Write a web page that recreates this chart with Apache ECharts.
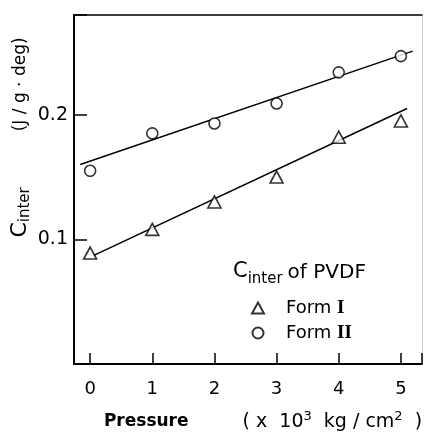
<!DOCTYPE html>
<html><head><meta charset="utf-8">
<script src="https://cdn.jsdelivr.net/npm/echarts@6/dist/echarts.min.js"></script>
<style>html,body{margin:0;padding:0;background:#fff}#c{width:425px;height:432px}</style>
</head><body><div id="c"></div>
<script>
// Data
const pressure = [0, 1, 2, 3, 4, 5];
const formI = [0.089, 0.108, 0.130, 0.150, 0.182, 0.195];
const formII = [0.155, 0.185, 0.193, 0.209, 0.234, 0.247];
// fitted straight lines (endpoints)
const fitIx = [0.05, 5.1];
const fitIy = [0.087, 0.205];
const fitIIx = [-0.16, 5.19];
const fitIIy = [0.160, 0.251];
const yTickLabels = ['0.1', '0.2'];
const xTickLabels = ['0', '1', '2', '3', '4', '5'];

const FONT = 'DejaVu Sans';
const chart = echarts.init(document.getElementById('c'), null, {renderer: 'canvas'});
const pairs = (xs, ys) => xs.map((x, i) => [x, ys[i]]);

const option = {
  animation: false,
  backgroundColor: '#fff',
  textStyle: {fontFamily: FONT, color: '#000'},
  grid: {left: 74, right: 3, top: 15, bottom: 68, outerBoundsMode: 'none', containLabel: false},
  title: {
    text: '{c|C}{s|inter}{o|of PVDF}',
    left: 228, top: 256,
    textStyle: {
      fontWeight: 'normal',
      rich: {
        c: {fontSize: 21, fontWeight: 'normal', fontFamily: FONT, color: '#000', lineHeight: 28, verticalAlign: 'top'},
        s: {fontSize: 15, fontWeight: 'normal', fontFamily: FONT, color: '#000', lineHeight: 28, verticalAlign: 'top', padding: [11, 0, 0, 0]},
        o: {fontSize: 20, fontWeight: 'normal', fontFamily: FONT, color: '#000', lineHeight: 28, verticalAlign: 'top', padding: [2, 0, 0, 5]}
      }
    }
  },
  legend: {
    data: [{name: 'Form I', icon: 'triangle'}, {name: 'Form II', icon: 'circle'}],
    orient: 'vertical', left: 246, top: 293,
    itemWidth: 12, itemHeight: 11, itemGap: 5,
    formatter: n => n === 'Form I' ? '{a|Form }{r|I}' : '{a|Form }{r|II}',
    textStyle: {
      fontSize: 17, lineHeight: 20, color: '#000',
      rich: {
        a: {fontSize: 18, fontFamily: FONT, color: '#000', padding: [0, 0, 0, 17]},
        r: {fontSize: 19, fontFamily: 'Liberation Serif', fontWeight: 'bold', color: '#000'}
      }
    }
  },
  xAxis: [{
    type: 'value', min: -0.26, max: 5.34, position: 'bottom',
    axisLine: {show: true, onZero: false, lineStyle: {color: '#000', width: 2}},
    axisTick: {show: true, inside: true, length: 11, lineStyle: {color: '#000', width: 1.5}},
    axisLabel: {
      fontSize: 18, margin: 16, color: '#000', fontFamily: FONT,
      formatter: v => { const r = Math.round(v); return Math.abs(v - r) < 1e-6 && xTickLabels.indexOf(String(r)) >= 0 ? String(r) : ''; }
    },
    splitLine: {show: false},
    name: '{b|Pressure}{p|( x  10}{sup|3}{n|  kg / cm}{sup|2}{n|  )}',
    nameLocation: 'middle', nameGap: 46, nameMoveOverlap: false,
    nameTextStyle: {
      rich: {
        b: {fontSize: 17, fontWeight: 'bold', fontFamily: FONT, color: '#000', padding: [0, 0, 0, 30]},
        p: {fontSize: 19, fontFamily: FONT, color: '#000', padding: [0, 0, 0, 54]},
        n: {fontSize: 19, fontFamily: FONT, color: '#000'},
        sup: {fontSize: 13, fontFamily: FONT, color: '#000', padding: [0, 0, 11, 0]}
      }
    }
  }, {
    type: 'value', min: -0.26, max: 5.34, position: 'top',
    axisLine: {show: true, onZero: false, lineStyle: {color: '#000', width: 1.5}},
    axisTick: {show: false}, axisLabel: {show: false}, splitLine: {show: false}
  }],
  yAxis: [{
    type: 'value', min: 0, max: 0.28, interval: 0.1, position: 'left',
    axisLine: {show: true, onZero: false, lineStyle: {color: '#000', width: 2}},
    axisTick: {show: true, inside: true, length: 13, lineStyle: {color: '#000', width: 1.5}},
    axisLabel: {
      fontSize: 19, margin: 6, color: '#000', fontFamily: FONT,
      formatter: v => { const s = v.toFixed(1); return yTickLabels.indexOf(s) >= 0 ? s : ''; }
    },
    splitLine: {show: false},
    name: '{c|C}{s|inter}{u|(J / g · deg)}',
    nameLocation: 'middle', nameRotate: 90, nameGap: 37, nameMoveOverlap: false,
    nameTextStyle: {
      rich: {
        c: {fontSize: 22, fontFamily: FONT, color: '#000', padding: [0, 0, 0, 104], lineHeight: 28, verticalAlign: 'top'},
        s: {fontSize: 15, fontFamily: FONT, color: '#000', padding: [9, 0, 0, 0], lineHeight: 28, verticalAlign: 'top'},
        u: {fontSize: 17, fontFamily: FONT, color: '#000', padding: [3, 0, 0, 56], lineHeight: 28, verticalAlign: 'top'}
      }
    }
  }, {
    type: 'value', min: 0, max: 0.28, position: 'right',
    axisLine: {show: true, onZero: false, lineStyle: {color: '#d0d0d0', width: 1}},
    axisTick: {show: false}, axisLabel: {show: false}, splitLine: {show: false}
  }],
  series: [
    {type: 'line', name: 'fitI', data: pairs(fitIx, fitIy), symbol: 'none', silent: true,
     lineStyle: {color: '#000', width: 1.5}, z: 2},
    {type: 'line', name: 'fitII', data: pairs(fitIIx, fitIIy), symbol: 'none', silent: true,
     lineStyle: {color: '#000', width: 1.5}, z: 2},
    {type: 'scatter', name: 'Form I', data: pairs(pressure, formI), symbol: 'triangle', symbolSize: [13, 12],
     itemStyle: {color: '#fff', borderColor: '#000', borderWidth: 1.6}, z: 3},
    {type: 'scatter', name: 'Form II', data: pairs(pressure, formII), symbol: 'circle', symbolSize: 11,
     itemStyle: {color: '#fff', borderColor: '#000', borderWidth: 1.6}, z: 3}
  ]
};
chart.setOption(option);
</script>
</body></html>
